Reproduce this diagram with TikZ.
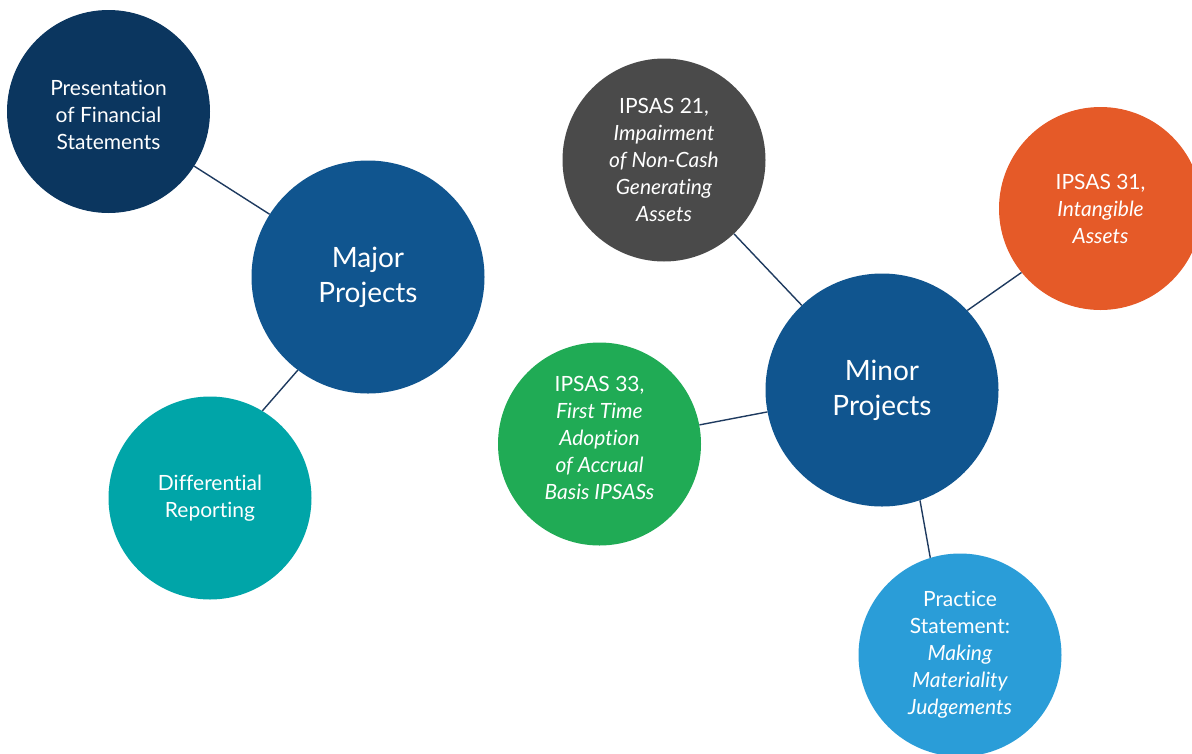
\documentclass[tikz,border=0pt]{standalone}
\usepackage{fontspec}
\setmainfont{Lato}[Ligatures=NoCommon]
\definecolor{navy}{HTML}{0B365F}
\definecolor{midblue}{HTML}{10558F}
\definecolor{teal}{HTML}{00A5A8}
\definecolor{graydark}{HTML}{4A4A4A}
\definecolor{orangec}{HTML}{E55A28}
\definecolor{greenc}{HTML}{20AB55}
\definecolor{lightblue}{HTML}{2A9DD8}
\definecolor{linec}{HTML}{1E3A5F}
\begin{document}
\begin{tikzpicture}[x=1pt,y=-1pt,
  small/.style={circle, minimum size=203pt, inner sep=0pt},
  big/.style={circle, minimum size=233pt, inner sep=0pt},
  txt/.style={text=white, align=center, inner sep=0pt, font=\fontsize{21}{27}\selectfont},
  bigtxt/.style={text=white, align=center, inner sep=0pt, font=\fontsize{28}{35}\selectfont},
  link/.style={draw=linec, line width=1.4pt}]
\useasboundingbox (0,0) rectangle (1192,753);
\clip (0,0) rectangle (1192,753);
\node[small, fill=navy, label={[txt, yshift=-3pt]center:{Presentation\\of Financial\\Statements}}] (pres) at (108.5,111.5) {};
\node[big, fill=midblue, label={[bigtxt]center:{Major\\Projects}}] (major) at (368,277) {};
\node[small, fill=teal, label={[txt]center:{Differential\\Reporting}}] (diff) at (210,498) {};
\node[small, fill=graydark, label={[txt]center:{IPSAS 21,\\\textit{Impairment}\\\textit{of Non-Cash}\\\textit{Generating}\\\textit{Assets}}}] (ip21) at (664,160) {};
\node[small, fill=orangec, label={[txt]center:{IPSAS 31,\\\textit{Intangible}\\\textit{Assets}}}] (ip31) at (1100.5,208.5) {};
\node[big, fill=midblue, label={[bigtxt]center:{Minor\\Projects}}] (minor) at (882,390) {};
\node[small, fill=greenc, label={[txt, yshift=6pt]center:{IPSAS 33,\\\textit{First Time}\\\textit{Adoption}\\\textit{of Accrual}\\\textit{Basis IPSASs}}}] (ip33) at (599.5,444) {};
\node[small, fill=lightblue, label={[txt]center:{Practice\\Statement:\\\textit{Making}\\\textit{Materiality}\\\textit{Judgements}}}] (prac) at (960,655) {};
\draw[link] (pres) -- (major);
\draw[link] (major.233) -- (diff.59.4);
\draw[link] (ip21) -- (minor);
\draw[link] (ip31.219.8) -- (minor.43.3);
\draw[link] (ip33) -- (minor);
\draw[link] (minor.289.5) -- (prac.107.5);
\end{tikzpicture}
\end{document}
